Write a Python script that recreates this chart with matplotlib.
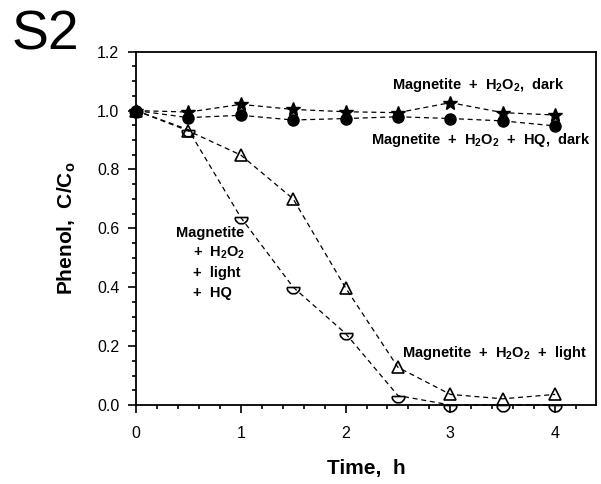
import numpy as np
import matplotlib
matplotlib.use("Agg")
import matplotlib.pyplot as plt
from matplotlib.path import Path
from matplotlib.ticker import MultipleLocator

plt.rcParams['font.family'] = ['Liberation Sans', 'DejaVu Sans']
plt.rcParams['mathtext.fontset'] = 'custom'
plt.rcParams['mathtext.rm'] = 'Liberation Sans'
plt.rcParams['mathtext.bf'] = 'Liberation Sans:bold'
plt.rcParams['mathtext.default'] = 'bf'

# Data
time_h = [0, 0.5, 1, 1.5, 2, 2.5, 3, 3.5, 4]
dark = [1.0, 0.995, 1.021, 1.004, 0.996, 0.993, 1.027, 0.993, 0.985]
hq_dark = [1.0, 0.976, 0.984, 0.968, 0.973, 0.979, 0.973, 0.965, 0.948]
light = [1.0, 0.931, 0.849, 0.700, 0.398, 0.128, 0.036, 0.021, 0.036]
light_hq = [1.0, 0.935, 0.637, 0.400, 0.243, 0.032, 0.0, 0.0, 0.0]

x_ticks = [0, 1, 2, 3, 4]
y_ticks = [0.0, 0.2, 0.4, 0.6, 0.8, 1.0, 1.2]

# half-circle marker (bottom half with diameter)
arc = Path.arc(180, 360)
half_verts = np.vstack([arc.vertices, arc.vertices[:1]])
half_marker = Path(half_verts)

fig = plt.figure(figsize=(6.01, 4.84), dpi=100)
ax = fig.add_axes([136/601, 1 - 405/484, (596-136)/601, (405-51.7)/484])

line_kw = dict(color='black', linestyle=(0, (4, 3)), linewidth=0.9, clip_on=False)
ax.plot(time_h, light_hq, marker=half_marker, markersize=9, markerfacecolor='none',
        markeredgecolor='black', markeredgewidth=1.2, zorder=3, **line_kw)
ax.plot(time_h, light, marker='^', markersize=9, markerfacecolor='none',
        markeredgecolor='black', markeredgewidth=1.2, zorder=3, **line_kw)
ax.plot(time_h, dark, marker='*', markersize=10, markerfacecolor='black',
        markeredgecolor='black', zorder=4, **line_kw)
ax.plot(time_h, hq_dark, marker='o', markersize=8, markerfacecolor='black',
        markeredgecolor='black', zorder=4, **line_kw)

ax.set_xlim(0, 4.39)
ax.set_ylim(0, 1.2)
ax.set_xticks(x_ticks)
ax.set_yticks(y_ticks)
ax.set_xticklabels([str(v) for v in x_ticks])
ax.set_yticklabels([f"{v:.1f}" for v in y_ticks])
ax.xaxis.set_minor_locator(MultipleLocator(0.2))
ax.yaxis.set_minor_locator(MultipleLocator(0.05))
ax.tick_params(axis='both', which='major', direction='out', length=6, width=1.2,
               labelsize=11.5, top=False, right=False)
ax.tick_params(axis='both', which='minor', direction='out', length=3, width=1.2,
               top=False, right=False)
ax.tick_params(axis='y', which='major', pad=6)
ax.tick_params(axis='x', which='major', pad=9)
for s in ax.spines.values():
    s.set_linewidth(1.3)

ax.set_xlabel('Time,  h', fontsize=15, fontweight='bold', labelpad=13)
ax.set_ylabel(r'Phenol,  C/C$_o$', fontsize=15, fontweight='bold', labelpad=14)

fs = 10.5
ax.text(2.444, 1.087, r'Magnetite  +  H$_2$O$_2$,  dark', fontsize=fs, fontweight='bold',
        ha='left', va='center')
ax.text(2.243, 0.900, r'Magnetite  +  H$_2$O$_2$  +  HQ,  dark', fontsize=fs, fontweight='bold',
        ha='left', va='center')
ax.text(2.539, 0.177, r'Magnetite  +  H$_2$O$_2$  +  light', fontsize=fs, fontweight='bold',
        ha='left', va='center')
ax.text(0.382, 0.584, 'Magnetite', fontsize=fs, fontweight='bold', ha='left', va='center')
ax.text(0.544, 0.516, r'+  H$_2$O$_2$', fontsize=fs, fontweight='bold', ha='left', va='center')
ax.text(0.544, 0.448, '+  light', fontsize=fs, fontweight='bold', ha='left', va='center')
ax.text(0.544, 0.380, '+  HQ', fontsize=fs, fontweight='bold', ha='left', va='center')

fig.text(12/601, 1 - 50/484, 'S2', fontsize=40, ha='left', va='baseline')

fig.savefig('out.png', dpi=100)
